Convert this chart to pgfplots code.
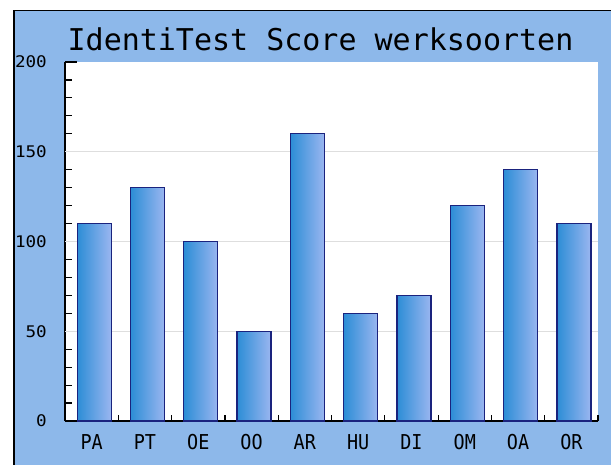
\documentclass[border=0pt]{standalone}
\usepackage{fontspec}
\usepackage{pgfplots}
\pgfplotsset{compat=1.18}
\setmainfont{DejaVu Sans Mono}
\newfontfamily\titlefont{DejaVu Sans Mono}
\newfontfamily\xfont[FakeStretch=0.9]{DejaVu Sans Mono}
\newfontfamily\yfont[FakeStretch=1.1]{DejaVu Sans Mono}
\definecolor{bgblue}{HTML}{8DB8EA}
\definecolor{barL}{HTML}{2C8DD6}
\definecolor{barR}{HTML}{9AB6F0}
\definecolor{navy}{HTML}{1A237E}
\pgfplotsset{mybar/.style={ybar, bar width=34pt, bar shift=2.5pt, draw=navy, line width=1.3pt, left color=barL, right color=barR}}
\begin{document}
\begin{tikzpicture}[x=1pt,y=1pt]
\useasboundingbox (0,0) rectangle (611,-465);
\fill[white] (0,0) rectangle (611,-465);
\fill[bgblue] (13,-10) rectangle (611,-465);
\draw[black, line width=1.5pt] (13.75,-465) -- (13.75,-10.75) -- (611,-10.75);
\fill[white] (65,-421) rectangle (598,-62);
\node[font=\titlefont\fontsize{30}{30}\selectfont, anchor=base, inner sep=0pt] at (320.5,-51) {IdentiTest Score werksoorten};
\begin{axis}[
  at={(65pt,-421pt)}, anchor=south west, scale only axis,
  width=533pt, height=359pt,
  xmin=-0.5, xmax=9.5, ymin=0, ymax=200,
  axis x line=none, axis y line=left,
  y axis line style={-, black, line width=1.5pt},
  ytick={0,50,...,200}, minor y tick num=4,
  tick align=inside, major tick length=12pt, minor tick length=7pt,
  tick style={black, line width=1.2pt},
  extra y ticks={50,100,150}, extra y tick labels={},
  extra y tick style={grid=major, ytick style={draw=none}},
  grid style={black!13, line width=1pt},
  /pgf/number format/assume math mode=true,
  yticklabel style={font=\yfont\fontsize{16}{16}\selectfont, inner sep=0pt, anchor=east, xshift=-18pt},
]
\end{axis}
\begin{axis}[
  at={(65pt,-421pt)}, anchor=south west, scale only axis,
  width=533pt, height=359pt,
  xmin=-0.5, xmax=9.5, ymin=0, ymax=200,
  axis y line=none, axis x line=bottom,
  x axis line style={-, black, line width=1.5pt},
  xtick={0,...,9},
  xticklabels={PA,PT,OE,OO,AR,HU,DI,OM,OA,OR},
  xtick style={draw=none},
  major tick length=6pt, tick align=inside,
  extra x ticks={0.5,1.5,...,9.5}, extra x tick labels={},
  extra x tick style={xtick style={draw=black, line width=1.2pt}},
  xticklabel style={font=\xfont\fontsize{20.5}{20.5}\selectfont, inner sep=0pt, anchor=north, yshift=-13pt},
]
\addplot[mybar] coordinates {(0,110)};
\addplot[mybar] coordinates {(1,130)};
\addplot[mybar] coordinates {(2,100)};
\addplot[mybar] coordinates {(3,50)};
\addplot[mybar] coordinates {(4,160)};
\addplot[mybar] coordinates {(5,60)};
\addplot[mybar] coordinates {(6,70)};
\addplot[mybar] coordinates {(7,120)};
\addplot[mybar] coordinates {(8,140)};
\addplot[mybar] coordinates {(9,110)};
\end{axis}
\end{tikzpicture}
\end{document}
